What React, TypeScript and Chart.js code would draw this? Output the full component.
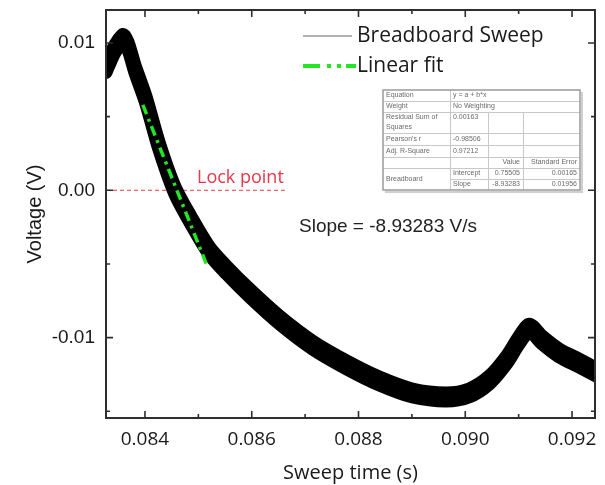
import { useEffect, useRef } from "react";
import { Chart, registerables } from "chart.js";

Chart.register(...registerables);

// Breadboard sweep trace
const sweepTime = [
  0.08327, 0.08335, 0.08344, 0.08359, 0.08368, 0.08381, 0.08402, 0.08426,
  0.08456, 0.08486, 0.0852, 0.08553, 0.08596, 0.08652, 0.08714, 0.08778,
  0.08839, 0.08901, 0.08964, 0.09007, 0.09045, 0.09077, 0.09101, 0.0912,
  0.09144, 0.09176, 0.09213, 0.09245,
];
const sweepVoltage = [
  0.00827, 0.00895, 0.00963, 0.01031, 0.00983, 0.00827, 0.0061, 0.00305,
  0.0, -0.00203, -0.00407, -0.00542, -0.00698, -0.00881, -0.01051, -0.01186,
  -0.01295, -0.01376, -0.01403, -0.01376, -0.01288, -0.01153, -0.01017, -0.00936,
  -0.01017, -0.01105, -0.01173, -0.01234,
];
// Linear fit segment
const fitTime = [0.08396, 0.08516];
const fitVoltage = [0.0058, -0.0051];
// Lock point reference line
const lockTime = [0.08327, 0.08662];
const lockVoltage = [0, 0];

const xTickValues = [0.084, 0.086, 0.088, 0.09, 0.092];
const xTickLabels = ["0.084", "0.086", "0.088", "0.090", "0.092"];
const xMinorTicks = [0.085, 0.087, 0.089, 0.091];
const yTickValues = [0.01, 0, -0.01];
const yTickLabels = ["0.01", "0.00", "-0.01"];
const yMinorTicks = [0.005, -0.005, -0.015];
const xRange = [0.08327, 0.09243];
const yRange = [-0.01546, 0.01224];

const legendLabels = ["Breadboard Sweep", "Linear fit"];
const lockLabel = "Lock point";
const slopeLabel = "Slope = -8.93283 V/s";

// Fit statistics table
const tableLabels = ["Equation", "Weight", "Residual Sum of", "Pearson's r", "Adj. R-Square"];
const tableValues = ["y = a + b*x", "No Weighting", "0.00163", "-0.98506", "0.97212"];
const tableHeaders = ["Value", "Standard Error"];
const tableSeries = "Breadboard";
const tableParams = ["Intercept", "Slope"];
const tableParamValues = ["0.75505", "-8.93283"];
const tableParamErrors = ["0.00165", "0.01956"];

const toXY = (xs: number[], ys: number[]) => xs.map((x, i) => ({ x, y: ys[i] }));

// widens the noisy trace vertically (visual spread of the measured noise)
const spreadPlugin = {
  id: "spread",
  beforeDatasetDraw(chart: any, args: any) {
    if (args.index !== 1) return;
    const { ctx, chartArea: a } = chart;
    [-4, 4].forEach((dy) => {
      ctx.save();
      ctx.beginPath();
      ctx.rect(a.left, a.top, a.right - a.left, a.bottom - a.top);
      ctx.clip();
      ctx.translate(0, dy);
      args.meta.controller.draw();
      ctx.restore();
    });
  },
};

const decorPlugin = {
  id: "decor",
  afterDatasetsDraw(chart: any) {
    const { ctx, chartArea: a, scales } = chart;
    const xs = scales.x;
    const ys = scales.y;
    ctx.save();
    // frame
    ctx.strokeStyle = "#2e2e2e";
    ctx.lineWidth = 2;
    ctx.strokeRect(a.left, a.top, a.right - a.left, a.bottom - a.top);
    ctx.lineWidth = 1.6;
    const vt = (v: number, len: number) => {
      const px = xs.getPixelForValue(v);
      ctx.beginPath();
      ctx.moveTo(px, a.bottom);
      ctx.lineTo(px, a.bottom - len);
      ctx.moveTo(px, a.top);
      ctx.lineTo(px, a.top + len);
      ctx.stroke();
    };
    const ht = (v: number, len: number) => {
      const py = ys.getPixelForValue(v);
      ctx.beginPath();
      ctx.moveTo(a.left, py);
      ctx.lineTo(a.left + len, py);
      ctx.moveTo(a.right, py);
      ctx.lineTo(a.right - len, py);
      ctx.stroke();
    };
    xTickValues.forEach((v) => vt(v, 7));
    xMinorTicks.forEach((v) => vt(v, 4));
    yTickValues.forEach((v) => ht(v, 7));
    yMinorTicks.forEach((v) => ht(v, 4));

    // legend
    ctx.strokeStyle = "#666";
    ctx.lineWidth = 1;
    ctx.beginPath();
    ctx.moveTo(303, 36);
    ctx.lineTo(352, 36);
    ctx.stroke();
    ctx.strokeStyle = "#22e622";
    ctx.lineWidth = 4;
    ctx.setLineDash([17, 7, 4, 6, 4, 5]);
    ctx.beginPath();
    ctx.moveTo(303, 66);
    ctx.lineTo(356, 66);
    ctx.stroke();
    ctx.setLineDash([]);
    ctx.fillStyle = "#1a1a1a";
    ctx.font = "21px 'Open Sans'";
    ctx.textBaseline = "middle";
    ctx.textAlign = "left";
    ctx.fillText(legendLabels[0], 357, 36);
    ctx.fillText(legendLabels[1], 357, 66);

    // lock point label
    ctx.fillStyle = "#e8364a";
    ctx.font = "18px 'Open Sans'";
    ctx.fillText(lockLabel, 197, 178);

    // slope label
    ctx.fillStyle = "#222";
    ctx.font = "19px 'Liberation Sans'";
    ctx.fillText(slopeLabel, 299, 227);

    // table
    const cx = [383, 450, 488, 523, 580];
    const ry = [90, 101, 112, 133, 145, 157, 168, 179, 190];
    ctx.fillStyle = "#fff";
    ctx.fillRect(cx[0], ry[0], cx[4] - cx[0], ry[8] - ry[0]);
    ctx.strokeStyle = "#c8c8c8";
    ctx.lineWidth = 1;
    ctx.beginPath();
    [1, 2, 3, 4, 5, 6].forEach((i) => {
      ctx.moveTo(cx[0], ry[i] + 0.5);
      ctx.lineTo(cx[4], ry[i] + 0.5);
    });
    ctx.moveTo(cx[1], ry[7] + 0.5);
    ctx.lineTo(cx[4], ry[7] + 0.5);
    ctx.moveTo(cx[1] + 0.5, ry[0]);
    ctx.lineTo(cx[1] + 0.5, ry[8]);
    ctx.moveTo(cx[2] + 0.5, ry[2]);
    ctx.lineTo(cx[2] + 0.5, ry[8]);
    ctx.moveTo(cx[3] + 0.5, ry[2]);
    ctx.lineTo(cx[3] + 0.5, ry[8]);
    ctx.stroke();
    ctx.strokeStyle = "#9a9a9a";
    ctx.lineWidth = 1.5;
    ctx.strokeRect(cx[0], ry[0], cx[4] - cx[0], ry[8] - ry[0]);
    ctx.strokeStyle = "#cfcfcf";
    ctx.lineWidth = 2;
    ctx.beginPath();
    ctx.moveTo(cx[0] + 2, ry[8] + 2);
    ctx.lineTo(cx[4] + 2, ry[8] + 2);
    ctx.lineTo(cx[4] + 2, ry[0] + 2);
    ctx.stroke();

    ctx.fillStyle = "#6a6a6a";
    ctx.font = "7px 'Liberation Sans'";
    ctx.textAlign = "left";
    ctx.textBaseline = "middle";
    tableLabels.forEach((t, i) => {
      const yy = i === 2 ? ry[2] + 5 : (ry[i] + ry[i + 1]) / 2;
      ctx.fillText(t, cx[0] + 3, yy);
      ctx.fillText(tableValues[i], cx[1] + 3, yy);
    });
    ctx.fillText("Squares", cx[0] + 3, ry[2] + 15);
    ctx.textAlign = "right";
    ctx.fillText(tableHeaders[0], cx[3] - 3, (ry[5] + ry[6]) / 2);
    ctx.fillText(tableHeaders[1], cx[4] - 3, (ry[5] + ry[6]) / 2);
    tableParams.forEach((p, i) => {
      const yy = (ry[6 + i] + ry[7 + i]) / 2;
      ctx.textAlign = "left";
      ctx.fillText(p, cx[1] + 3, yy);
      ctx.textAlign = "right";
      ctx.fillText(tableParamValues[i], cx[3] - 3, yy);
      ctx.fillText(tableParamErrors[i], cx[4] - 3, yy);
    });
    ctx.textAlign = "left";
    ctx.fillText(tableSeries, cx[0] + 3, (ry[6] + ry[8]) / 2);
    ctx.restore();
  },
};

export default function App() {
  const ref = useRef<HTMLCanvasElement | null>(null);
  useEffect(() => {
    if (!ref.current) return;
    const chart = new Chart(ref.current, {
      type: "line",
      data: {
        datasets: [
          {
            label: "Lock",
            data: toXY(lockTime, lockVoltage),
            borderColor: "#f03a46",
            borderWidth: 1,
            borderDash: [4, 3],
            pointRadius: 0,
            clip: 0,
            order: 3,
          } as any,
          {
            label: legendLabels[0],
            data: toXY(sweepTime, sweepVoltage),
            borderColor: "#000",
            borderWidth: 13,
            borderJoinStyle: "round",
            borderCapStyle: "round",
            pointRadius: 0,
            tension: 0.3,
            clip: 0,
            order: 2,
          } as any,
          {
            label: legendLabels[1],
            data: toXY(fitTime, fitVoltage),
            borderColor: "#22e622",
            borderWidth: 3.5,
            borderDash: [10, 5, 3, 5],
            pointRadius: 0,
            clip: 0,
            order: 1,
          } as any,
        ],
      },
      options: {
        animation: false,
        responsive: false,
        layout: { padding: { top: 10, right: 10, left: 0, bottom: 0 } },
        plugins: { legend: { display: false }, tooltip: { enabled: false } },
        scales: {
          x: {
            type: "linear",
            min: xRange[0],
            max: xRange[1],
            grid: { display: false, drawTicks: false },
            border: { display: false },
            afterBuildTicks: (s: any) => {
              s.ticks = xTickValues.map((v) => ({ value: v }));
            },
            afterFit: (s: any) => {
              s.height = 67;
              s.paddingLeft = 0;
              s.paddingRight = 0;
            },
            ticks: {
              padding: 10,
              color: "#1a1a1a",
              font: { family: "'Open Sans'", size: 19 },
              maxRotation: 0,
              autoSkip: false,
              callback: (_v: any, i: number) => xTickLabels[i],
            },
            title: {
              display: true,
              text: "Sweep time (s)",
              color: "#1a1a1a",
              font: { family: "'Open Sans'", size: 20 },
              padding: { top: 0, bottom: 0 },
            },
          },
          y: {
            type: "linear",
            min: yRange[0],
            max: yRange[1],
            grid: { display: false, drawTicks: false },
            border: { display: false },
            afterBuildTicks: (s: any) => {
              s.ticks = yTickValues.map((v) => ({ value: v }));
            },
            afterFit: (s: any) => {
              s.width = 106;
              s.paddingTop = 0;
              s.paddingBottom = 0;
            },
            ticks: {
              padding: 11,
              color: "#1a1a1a",
              font: { family: "'Liberation Sans'", size: 19 },
              autoSkip: false,
              callback: (_v: any, i: number) => yTickLabels[i],
            },
            title: {
              display: true,
              text: "Voltage (V)",
              color: "#1a1a1a",
              font: { family: "'Liberation Sans'", size: 20 },
              padding: { top: 23, bottom: 0 },
            },
          },
        },
      },
      plugins: [spreadPlugin, decorPlugin],
    } as any);
    return () => chart.destroy();
  }, []);
  return (
    <div style={{ position: "fixed", left: 0, top: 0, width: 605, height: 485, background: "#fff" }}>
      <canvas ref={ref} width={605} height={485} style={{ display: "block" }} />
    </div>
  );
}
